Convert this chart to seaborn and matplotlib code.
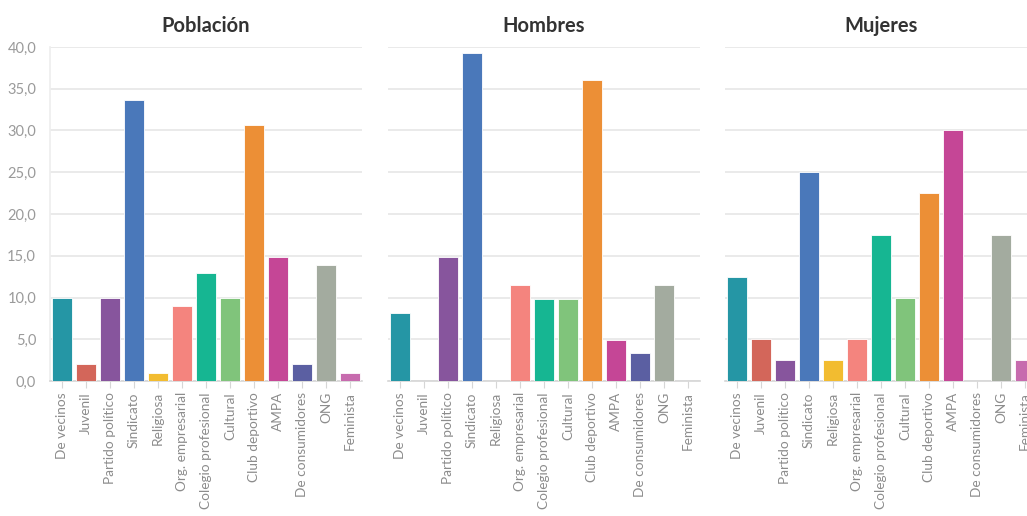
import numpy as np
import pandas as pd
import matplotlib
matplotlib.use("Agg")
import matplotlib.pyplot as plt
import seaborn as sns

sns.set_theme(style="white")
plt.rcParams["font.family"] = ["Lato", "DejaVu Sans"]

categorias = ["De vecinos", "Juvenil", "Partido político", "Sindicato", "Religiosa",
              "Org. empresarial", "Colegio profesional", "Cultural", "Club deportivo",
              "AMPA", "De consumidores", "ONG", "Feminista"]
poblacion = [10.0, 2.0, 10.0, 33.7, 1.0, 9.0, 12.9, 10.0, 30.7, 14.9, 2.0, 13.9, 1.0]
hombres = [8.2, 0.0, 14.8, 39.3, 0.0, 11.5, 9.8, 9.8, 36.1, 4.9, 3.3, 11.5, 0.0]
mujeres = [12.5, 5.0, 2.5, 25.0, 2.5, 5.0, 17.5, 10.0, 22.5, 30.0, 0.0, 17.5, 2.5]
paneles = ["Población", "Hombres", "Mujeres"]
yticks = [0, 5, 10, 15, 20, 25, 30, 35, 40]

colores = ["#2596a5", "#d3665a", "#87559d", "#4a78ba", "#f2bc30", "#f4847e", "#16b692",
           "#80c47b", "#ec8f36", "#c54696", "#5b5fa2", "#a3ab9f", "#c76bae"]
pal = dict(zip(categorias, colores))

W, H = 1027, 516
fig = plt.figure(figsize=(W / 100, H / 100), dpi=100)

# panel left edges in pixels (last one runs off the image like the original)
lefts = [50, 388, 725]
pw = 312
top_px, bot_px = 47, 381

for i, (nombre, vals) in enumerate(zip(paneles, [poblacion, hombres, mujeres])):
    ax = fig.add_axes([lefts[i] / W, 1 - bot_px / H, pw / W, (bot_px - top_px) / H])
    df = pd.DataFrame({"cat": categorias, "val": vals})
    sns.barplot(data=df, x="cat", y="val", hue="cat", palette=pal, legend=False,
                width=0.83, edgecolor="white", linewidth=0.6, saturation=1, ax=ax, zorder=3)
    ax.set_ylim(0, 40)
    ax.set_xlim(-0.5, len(categorias) - 0.5)
    ax.set_yticks(yticks)
    ax.yaxis.grid(True, color="#e8e8e8", linewidth=1.3, zorder=0)
    ax.set_axisbelow(True)
    for s in ["top", "right", "left"]:
        ax.spines[s].set_visible(False)
    ax.spines["bottom"].set_color("#d6d6d6")
    ax.spines["bottom"].set_linewidth(1.2)
    if i == 0:
        ax.spines["left"].set_visible(True)
        ax.spines["left"].set_color("#eeeeee")
        ax.set_yticklabels([f"{t:.1f}".replace(".", ",") for t in yticks],
                           color="#9a9a9a", fontsize=10.5)
    else:
        ax.set_yticklabels([])
    ax.tick_params(axis="y", length=0, pad=10)
    ax.tick_params(axis="x", bottom=True, length=5, width=0.8, color="#d6d6d6", pad=3)
    ax.set_xticks(range(len(categorias)))
    ax.set_xticklabels(categorias, rotation=90, color="#8c8c8c", fontsize=9.8)
    ax.set_xlabel("")
    ax.set_ylabel("")
    ax.set_title(nombre, fontsize=14.5, fontweight="bold", color="#333333", pad=11)

fig.savefig("out.png", dpi=100)
